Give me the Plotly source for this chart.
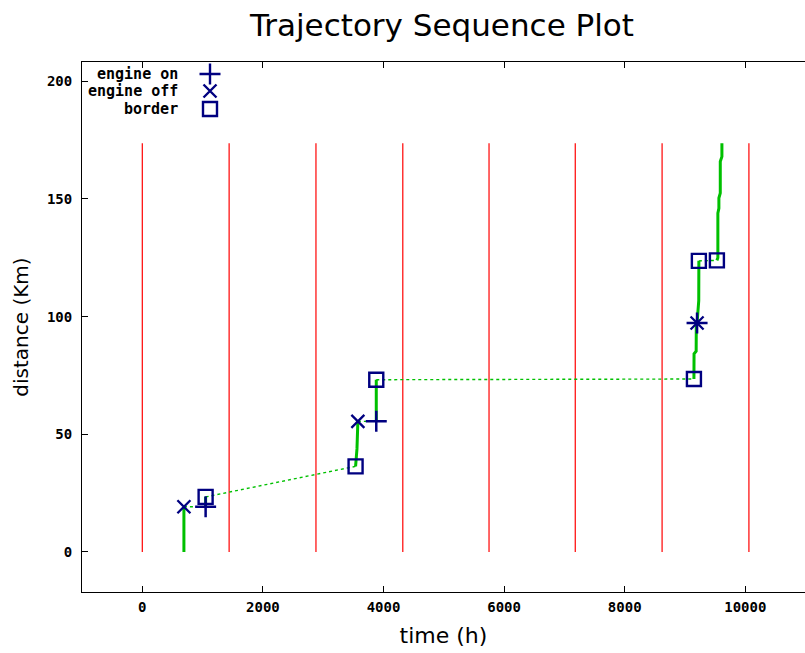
import plotly.graph_objects as go

# ---------------- data ----------------
# border-crossing reference times (h) drawn as red vertical lines
border_times = [0, 1440, 2880, 4320, 5750, 7180, 8620, 10060]
border_line_top = 173.7  # km

# solid (flight) segments of the trajectory
solid_segments = [
    ([690, 690], [0.0, 19.2]),
    ([1050, 1050], [19.2, 23.4]),
    ([3537, 3560, 3575], [36.4, 43.8, 55.5]),
    ([3880, 3880], [55.5, 73.2]),
    ([9148, 9150, 9185, 9187, 9200, 9214, 9228, 9230],
     [73.5, 84.2, 85.3, 95.1, 97.3, 105.8, 106.8, 123.7]),
    ([9529, 9545, 9545, 9562, 9562, 9585, 9585, 9612, 9612],
     [123.9, 125.0, 144.0, 146.0, 150.4, 152.5, 165.9, 168.0, 173.7]),
]
# dotted (connecting) segments
dotted_segments = [
    ([690, 1050], [19.2, 19.2]),
    ([1050, 3537], [23.4, 36.4]),
    ([3575, 3880], [55.5, 55.5]),
    ([3880, 9148], [73.2, 73.5]),
    ([9230, 9529], [123.7, 123.9]),
]

engine_on_x = [1050, 3880, 9200]
engine_on_y = [19.2, 55.5, 97.3]
engine_off_x = [690, 3575, 9200]
engine_off_y = [19.2, 55.5, 97.3]
border_x = [1050, 3537, 3880, 9148, 9230, 9529]
border_y = [23.4, 36.4, 73.2, 73.5, 123.7, 123.9]

x_ticks = [0, 2000, 4000, 6000, 8000, 10000]
x_tick_labels = ["0", "2000", "4000", "6000", "8000", "10000"]
y_ticks = [0, 50, 100, 150, 200]
y_tick_labels = ["0", "50", "100", "150", "200"]

legend_labels = ["engine on", "engine off", "border"]

# ---------------- styles ----------------
GREEN = "#00c000"
NAVY = "#000080"
RED = "#ff0000"
MONO = dict(family="DejaVu Sans Mono", size=14, color="black", weight="bold")
MONO_LEG = dict(family="DejaVu Sans Mono", size=15, color="black", weight="bold")


def join(segs):
    xs, ys = [], []
    for sx, sy in segs:
        xs += list(sx) + [None]
        ys += list(sy) + [None]
    return xs, ys


fig = go.Figure()

# red vertical border lines
rx, ry = join([([t, t], [0, border_line_top]) for t in border_times])
fig.add_trace(go.Scatter(x=rx, y=ry, mode="lines",
                         line=dict(color=RED, width=1.2),
                         hoverinfo="skip", showlegend=False))

dx, dy = join(dotted_segments)
fig.add_trace(go.Scatter(x=dx, y=dy, mode="lines",
                         line=dict(color=GREEN, width=1.4, dash="dot"),
                         hoverinfo="skip", showlegend=False))

sx, sy = join(solid_segments)
fig.add_trace(go.Scatter(x=sx, y=sy, mode="lines",
                         line=dict(color=GREEN, width=3),
                         hoverinfo="skip", showlegend=False))

fig.add_trace(go.Scatter(x=engine_on_x, y=engine_on_y, mode="markers",
                         marker=dict(symbol="cross-thin", size=15,
                                     line=dict(color=NAVY, width=2.5)),
                         name="engine on", showlegend=False))
fig.add_trace(go.Scatter(x=engine_off_x, y=engine_off_y, mode="markers",
                         marker=dict(symbol="x-thin", size=13,
                                     line=dict(color=NAVY, width=2.3)),
                         name="engine off", showlegend=False))
fig.add_trace(go.Scatter(x=border_x, y=border_y, mode="markers",
                         marker=dict(symbol="square-open", size=14, color=NAVY,
                                     line=dict(color=NAVY, width=2.4)),
                         name="border", showlegend=False))

# custom legend (gnuplot style: text left, symbol right) on a hidden pixel-scaled overlay
leg_sym_y = [74, 91, 109]
leg_symbols = ["cross-thin", "x-thin", "square-open"]
leg_sizes = [15, 13, 14]
for s, sz, yy in zip(leg_symbols, leg_sizes, leg_sym_y):
    fig.add_trace(go.Scatter(x=[210], y=[yy], xaxis="x2", yaxis="y2", mode="markers",
                             marker=dict(symbol=s, size=sz, color=NAVY,
                                         line=dict(color=NAVY, width=2.4)),
                             hoverinfo="skip", showlegend=False))
for lab, yy in zip(legend_labels, leg_sym_y):
    fig.add_annotation(x=180, y=yy, xref="x2", yref="y2", text=lab, showarrow=False,
                       xanchor="right", yanchor="middle", font=MONO_LEG)

axis_common = dict(showline=True, linecolor="black", linewidth=1, ticks="inside",
                   ticklen=6, tickcolor="black", showgrid=False, zeroline=False,
                   tickfont=MONO)

fig.update_layout(
    width=805, height=653,
    margin=dict(l=82, r=0, t=62, b=61),
    plot_bgcolor="white", paper_bgcolor="white",
    title=dict(text="Trajectory Sequence Plot", x=0.549, xanchor="center",
               y=1 - 25 / 653, yanchor="middle", yref="container",
               font=dict(family="DejaVu Sans", size=31, color="black")),
    xaxis=dict(range=[-1000, 10990], tickvals=x_ticks, ticktext=x_tick_labels,
               mirror="ticks", ticklabelstandoff=2,
               title=dict(text="time (h)", standoff=13,
                          font=dict(family="DejaVu Sans", size=22, color="black")),
               **axis_common),
    yaxis=dict(range=[-17, 208.2], tickvals=y_ticks, ticktext=y_tick_labels,
               mirror=False, ticklabelstandoff=6,
               title=dict(text="distance (Km)", standoff=12,
                          font=dict(family="DejaVu Sans", size=20, color="black")),
               **axis_common),
    xaxis2=dict(range=[82, 805], overlaying="x", anchor="y2", visible=False),
    yaxis2=dict(range=[592, 62], overlaying="y", anchor="x2", visible=False),
    showlegend=False,
)

fig.write_html("out.html")
